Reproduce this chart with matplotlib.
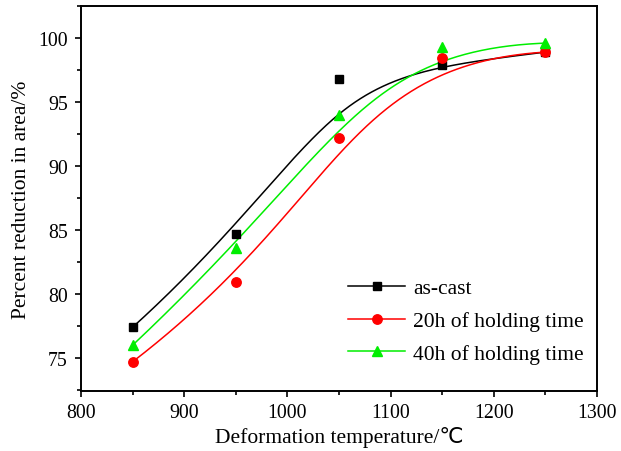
import numpy as np
import matplotlib
matplotlib.use("Agg")
import matplotlib.pyplot as plt
from matplotlib.ticker import MultipleLocator

plt.rcParams['font.family'] = ['Liberation Serif', 'DejaVu Sans']

temps = [850, 950, 1050, 1150, 1250]
as_cast = [77.4, 84.7, 96.8, 97.9, 98.9]
h20 = [74.7, 80.9, 92.2, 98.4, 98.9]
h40 = [76.0, 83.6, 94.0, 99.3, 99.6]

labels = ['as-cast', '20h of holding time', '40h of holding time']
colors = ['black', '#ff0000', '#00ee00']
markers = ['s', 'o', '^']
msizes = [6, 6.8, 7.5]


def bspline(px, py, n=400, k=3):
    """Clamped cubic B-spline using the data points as control points."""
    P = np.column_stack([px, py]).astype(float)
    m = len(P)
    knots = np.concatenate([np.zeros(k), np.linspace(0, 1, m - k + 1), np.ones(k)])
    ts = np.linspace(0, 1, n)
    out = []
    for t in ts:
        if t >= 1:
            i = m - 1
        else:
            i = np.searchsorted(knots, t, side='right') - 1
        d = [P[j].copy() for j in range(i - k, i + 1)]
        for r in range(1, k + 1):
            for j in range(k, r - 1, -1):
                idx = j + i - k
                denom = knots[idx + k + 1 - r] - knots[idx]
                a = 0 if denom == 0 else (t - knots[idx]) / denom
                d[j] = (1 - a) * d[j - 1] + a * d[j]
        out.append(d[k])
    out = np.array(out)
    out[-1] = P[-1]
    return out[:, 0], out[:, 1]


fig = plt.figure(figsize=(6.21, 4.52), dpi=100)
L, R, T, B = 81, 597, 7, 392
ax = fig.add_axes([L/621, 1 - B/452, (R-L)/621, (B-T)/452])

for y, lab, c, m, ms in zip([as_cast, h20, h40], labels, colors, markers, msizes):
    bx, by = bspline(temps, y)
    ax.plot(bx, by, color=c, lw=1.1, zorder=2)
    ax.plot(temps, y, linestyle='none', marker=m, color=c, ms=ms, zorder=3)
    ax.plot([], [], color=c, lw=1.1, marker=m, ms=ms, label=lab)

ax.set_xlim(800, 1300)
ax.set_ylim(72.42, 102.5)
ax.xaxis.set_major_locator(MultipleLocator(100))
ax.xaxis.set_minor_locator(MultipleLocator(50))
ax.yaxis.set_major_locator(MultipleLocator(5))
ax.yaxis.set_minor_locator(MultipleLocator(2.5))
ax.tick_params(which='both', direction='out', top=False, right=False, labelsize=14.3)
ax.tick_params(which='major', length=4, width=1.2)
ax.tick_params(which='minor', length=3, width=1.2)
ax.tick_params(axis='x', which='major', pad=4.5)
ax.tick_params(axis='y', which='major', pad=5.5)
for s in ax.spines.values():
    s.set_linewidth(1.4)

ax.set_xlabel('Deformation temperature/℃', fontsize=15.5, labelpad=3)
ax.set_ylabel('Percent reduction in area/%', fontsize=15.5, labelpad=5)

ax.legend(loc='center left', bbox_to_anchor=((339.4 - L) / (R - L), (B - 322) / (B - T)),
          frameon=False, fontsize=15.5, handlelength=2.65, labelspacing=0.6,
          handletextpad=0.37, borderaxespad=0)

fig.savefig('out.png', dpi=100)
